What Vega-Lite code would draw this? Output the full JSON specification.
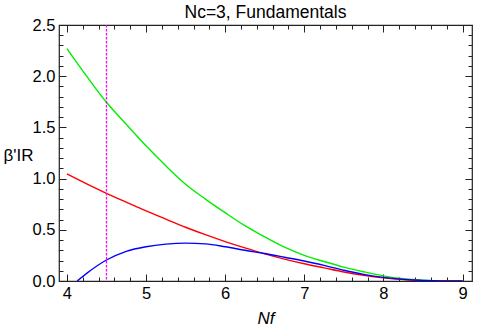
{
  "$schema": "https://vega.github.io/schema/vega-lite/v6.json",
  "autosize": "none",
  "width": 413,
  "height": 256,
  "padding": {"left": 59, "top": 25, "right": 7, "bottom": 46},
  "background": "white",
  "title": {"text": "Nc=3, Fundamentals", "font": "Liberation Sans", "fontSize": 17.5, "fontWeight": "normal", "color": "black", "offset": -4, "anchor": "middle"},
  "config": {
    "view": {"stroke": "#222", "strokeWidth": 1.2},
    "axis": {"grid": false, "domain": false, "tickColor": "#222", "labelFont": "Liberation Sans", "labelFontSize": 16.5, "labelColor": "black", "titleFont": "Liberation Sans", "titleColor": "black", "titleFontWeight": "normal"}
  },
  "datasets": {
    "curves": [
      {"Nf": 4.0, "beta": 2.27, "curve": "green"},
      {"Nf": 4.25, "beta": 2.0, "curve": "green"},
      {"Nf": 4.5, "beta": 1.745, "curve": "green"},
      {"Nf": 4.75, "beta": 1.53, "curve": "green"},
      {"Nf": 5.0, "beta": 1.32, "curve": "green"},
      {"Nf": 5.25, "beta": 1.125, "curve": "green"},
      {"Nf": 5.5, "beta": 0.945, "curve": "green"},
      {"Nf": 5.75, "beta": 0.8, "curve": "green"},
      {"Nf": 6.0, "beta": 0.667, "curve": "green"},
      {"Nf": 6.25, "beta": 0.54, "curve": "green"},
      {"Nf": 6.5, "beta": 0.43, "curve": "green"},
      {"Nf": 6.75, "beta": 0.33, "curve": "green"},
      {"Nf": 7.0, "beta": 0.25, "curve": "green"},
      {"Nf": 7.25, "beta": 0.19, "curve": "green"},
      {"Nf": 7.5, "beta": 0.135, "curve": "green"},
      {"Nf": 7.75, "beta": 0.09, "curve": "green"},
      {"Nf": 8.0, "beta": 0.05, "curve": "green"},
      {"Nf": 8.25, "beta": 0.022, "curve": "green"},
      {"Nf": 8.5, "beta": 0.008, "curve": "green"},
      {"Nf": 8.75, "beta": 0.001, "curve": "green"},
      {"Nf": 9.0, "beta": 0.0, "curve": "green"},
      {"Nf": 4.0, "beta": 1.045, "curve": "red"},
      {"Nf": 4.25, "beta": 0.948, "curve": "red"},
      {"Nf": 4.5, "beta": 0.856, "curve": "red"},
      {"Nf": 4.75, "beta": 0.77, "curve": "red"},
      {"Nf": 5.0, "beta": 0.685, "curve": "red"},
      {"Nf": 5.25, "beta": 0.605, "curve": "red"},
      {"Nf": 5.5, "beta": 0.525, "curve": "red"},
      {"Nf": 5.75, "beta": 0.452, "curve": "red"},
      {"Nf": 6.0, "beta": 0.385, "curve": "red"},
      {"Nf": 6.25, "beta": 0.323, "curve": "red"},
      {"Nf": 6.5, "beta": 0.265, "curve": "red"},
      {"Nf": 6.75, "beta": 0.214, "curve": "red"},
      {"Nf": 7.0, "beta": 0.168, "curve": "red"},
      {"Nf": 7.25, "beta": 0.128, "curve": "red"},
      {"Nf": 7.5, "beta": 0.088, "curve": "red"},
      {"Nf": 7.75, "beta": 0.056, "curve": "red"},
      {"Nf": 8.0, "beta": 0.031, "curve": "red"},
      {"Nf": 8.25, "beta": 0.014, "curve": "red"},
      {"Nf": 8.5, "beta": 0.004, "curve": "red"},
      {"Nf": 8.75, "beta": 0.0, "curve": "red"},
      {"Nf": 9.0, "beta": 0.0, "curve": "red"},
      {"Nf": 4.13, "beta": 0.0, "curve": "blue"},
      {"Nf": 4.25, "beta": 0.075, "curve": "blue"},
      {"Nf": 4.5, "beta": 0.205, "curve": "blue"},
      {"Nf": 4.75, "beta": 0.29, "curve": "blue"},
      {"Nf": 5.0, "beta": 0.335, "curve": "blue"},
      {"Nf": 5.25, "beta": 0.36, "curve": "blue"},
      {"Nf": 5.5, "beta": 0.37, "curve": "blue"},
      {"Nf": 5.75, "beta": 0.363, "curve": "blue"},
      {"Nf": 6.0, "beta": 0.335, "curve": "blue"},
      {"Nf": 6.25, "beta": 0.3, "curve": "blue"},
      {"Nf": 6.5, "beta": 0.268, "curve": "blue"},
      {"Nf": 6.75, "beta": 0.232, "curve": "blue"},
      {"Nf": 7.0, "beta": 0.195, "curve": "blue"},
      {"Nf": 7.25, "beta": 0.152, "curve": "blue"},
      {"Nf": 7.5, "beta": 0.105, "curve": "blue"},
      {"Nf": 7.75, "beta": 0.065, "curve": "blue"},
      {"Nf": 8.0, "beta": 0.035, "curve": "blue"},
      {"Nf": 8.25, "beta": 0.016, "curve": "blue"},
      {"Nf": 8.5, "beta": 0.006, "curve": "blue"},
      {"Nf": 8.75, "beta": 0.001, "curve": "blue"},
      {"Nf": 9.0, "beta": 0.0, "curve": "blue"}
    ]
  },
  "resolve": {"axis": {"x": "independent", "y": "independent"}},
  "layer": [
    {
      "data": {"name": "curves"},
      "mark": {"type": "line", "interpolate": "monotone", "strokeWidth": 1.4, "clip": true},
      "encoding": {
        "x": {"field": "Nf", "type": "quantitative",
          "scale": {"domain": [3.9, 9.12], "nice": false, "zero": false},
          "axis": {"orient": "bottom", "title": "Nf", "titleFontStyle": "italic", "titleFontSize": 17, "titlePadding": 6,
            "values": [4,4.2,4.4,4.6,4.8,5,5.2,5.4,5.6,5.8,6,6.2,6.4,6.6,6.8,7,7.2,7.4,7.6,7.8,8,8.2,8.4,8.6,8.8,9],
            "labelExpr": "abs(datum.value - round(datum.value)) < 0.001 ? format(datum.value, 'd') : ''",
            "tickSize": {"condition": {"test": "abs(datum.value - round(datum.value)) < 0.001", "value": -7}, "value": -4},
            "labelPadding": 11, "labelFlush": false, "labelOverlap": false}},
        "y": {"field": "beta", "type": "quantitative",
          "scale": {"domain": [0, 2.5], "nice": false},
          "axis": {"orient": "left", "title": "β'IR", "titleAngle": 0, "titleFontSize": 17, "titleAlign": "left", "titleBaseline": "middle", "titleX": -56, "titleY": 130,
            "values": [0,0.1,0.2,0.3,0.4,0.5,0.6,0.7,0.8,0.9,1,1.1,1.2,1.3,1.4,1.5,1.6,1.7,1.8,1.9,2,2.1,2.2,2.3,2.4,2.5],
            "labelExpr": "abs(datum.value*2 - round(datum.value*2)) < 0.001 ? format(datum.value, '.1f') : ''",
            "tickSize": {"condition": {"test": "abs(datum.value*2 - round(datum.value*2)) < 0.001", "value": -7}, "value": -4},
            "labelPadding": 11, "labelFlush": false, "labelOverlap": false}},
        "color": {"field": "curve", "type": "nominal", "legend": null,
          "scale": {"domain": ["green", "red", "blue"], "range": ["#00ee00", "#ff0000", "#0000ff"]}},
        "order": {"field": "Nf", "type": "quantitative"}
      }
    },
    {
      "data": {"values": [{"Nf": 4.5}]},
      "mark": {"type": "rule", "color": "#ff00ff", "strokeWidth": 1.3, "strokeDash": [2.5, 1.5]},
      "encoding": {
        "x": {"field": "Nf", "type": "quantitative",
          "scale": {"domain": [3.9, 9.12], "nice": false, "zero": false},
          "axis": {"orient": "top", "title": null, "labels": false,
            "values": [4,4.2,4.4,4.6,4.8,5,5.2,5.4,5.6,5.8,6,6.2,6.4,6.6,6.8,7,7.2,7.4,7.6,7.8,8,8.2,8.4,8.6,8.8,9],
            "tickSize": {"condition": {"test": "abs(datum.value - round(datum.value)) < 0.001", "value": -7}, "value": -4}}}
      }
    },
    {
      "data": {"values": [{"beta": 0}]},
      "mark": {"type": "rule", "opacity": 0},
      "encoding": {
        "y": {"field": "beta", "type": "quantitative",
          "scale": {"domain": [0, 2.5], "nice": false},
          "axis": {"orient": "right", "title": null, "labels": false,
            "values": [0,0.1,0.2,0.3,0.4,0.5,0.6,0.7,0.8,0.9,1,1.1,1.2,1.3,1.4,1.5,1.6,1.7,1.8,1.9,2,2.1,2.2,2.3,2.4,2.5],
            "tickSize": {"condition": {"test": "abs(datum.value*2 - round(datum.value*2)) < 0.001", "value": -7}, "value": -4}}}
      }
    }
  ]
}
